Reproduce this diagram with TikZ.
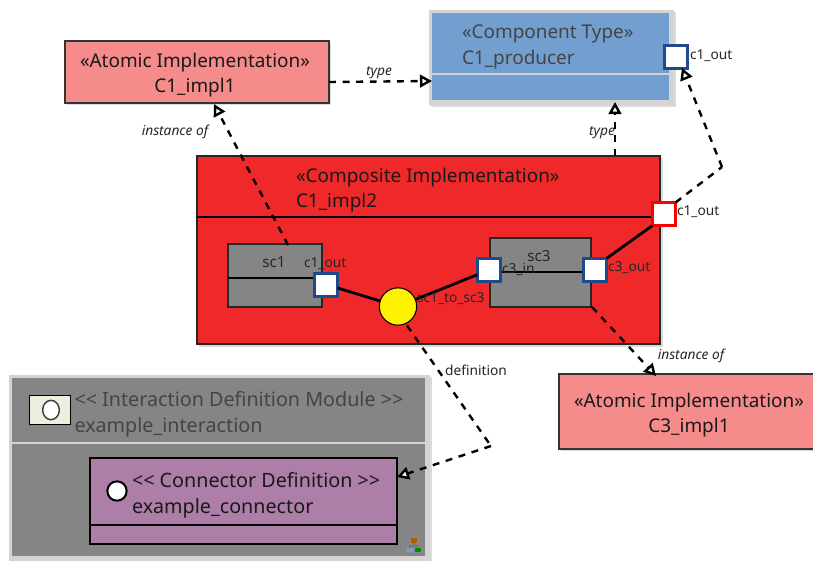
\documentclass[tikz,border=0pt]{standalone}
\usepackage{fontspec}
\setmainfont{Noto Sans}
\usetikzlibrary{arrows.meta,shapes.geometric}
\definecolor{atomic}{HTML}{F58B8B}
\definecolor{ctype}{HTML}{729FCF}
\definecolor{comp}{HTML}{EF2929}
\definecolor{gr}{HTML}{858585}
\definecolor{purp}{HTML}{AD7FA8}
\definecolor{portblue}{HTML}{204A87}
\definecolor{txtgr}{HTML}{444444}
\definecolor{outerg}{HTML}{D3D3D3}
\definecolor{cream}{HTML}{EEEEDF}
\tikzset{
  x=.75pt,y=-.75pt,
  every node/.style={inner sep=0pt,outer sep=0pt},
  box/.style={draw=#1,line width=.85pt,rectangle},
  big/.style={font=\fontsize{14.2pt}{19.3pt}\selectfont,align=left,text=black!90},
  bigc/.style={big,align=center},
  bigl/.style={font=\fontsize{14.8pt}{19.3pt}\selectfont,align=left,text=black!90},
  small/.style={font=\fontsize{10.3pt}{12pt}\selectfont,text=black!85},
  ital/.style={font=\fontsize{10.3pt}{12pt}\selectfont\itshape,text=black!85},
  scl/.style={font=\fontsize{11.4pt}{13pt}\selectfont,text=black!85},
  portb/.style={draw=portblue,fill=white,line width=1.7pt,minimum width=17.4pt,minimum height=17.4pt},
  portr/.style={draw=red,fill=white,line width=1.7pt,minimum width=17.4pt,minimum height=17.4pt},
  dep/.style={line width=1.8pt,dash pattern=on 5.2pt off 5pt,-{Triangle[open,fill=white,length=9pt,width=9.5pt,line width=1.8pt]}},
  depn/.style={line width=1.8pt,dash pattern=on 5.2pt off 5pt},
  wire/.style={line width=2.1pt,black},
  sep/.style={line width=.8pt},
  shad/.style={fill=black!14,draw=none},
}
\begin{document}
\begin{tikzpicture}
\useasboundingbox (0,0) rectangle (813,561);
\clip (0,0) rectangle (813,561);
% shadows
\fill[shad] (431,12) rectangle (676,107);
\fill[shad] (199,158) rectangle (663,347);
\fill[shad] (67,43) rectangle (331,105);
\fill[shad] (561,376) rectangle (820,451);
\fill[shad] (11,377) rectangle (432,561);
% Atomic 1
\node[box=black!80,fill=atomic,minimum width=264*.75pt,minimum height=62*.75pt] (a1) at (197,72) {};
\node[bigc] (a1t) at (195,75) {«Atomic Implementation»\\C1\_impl1};
% Component type
\node[fill=outerg,minimum width=245*.75pt,minimum height=95*.75pt] (ctouter) at (551.5,57.5) {};
\node[fill=ctype,minimum width=237*.75pt,minimum height=87*.75pt] (ct) at (550.5,56.5) {};
\draw[sep,draw=outerg] (ct.west|-0,74) -- (ct.east|-0,74);
\node[big,text=txtgr,anchor=west] (ctt) at (462,47) {«Component Type»\\C1\_producer};
\node[portb] (pco) at (676,57) {};
\node[small,anchor=west] (pcol) at (690,56) {c1\_out};
% Composite
\node[box=black!85,fill=comp,minimum width=463*.75pt,minimum height=188*.75pt] (c2) at (428.5,250) {};
\draw[sep] (c2.west|-0,217) -- (c2.east|-0,217);
\node[big,anchor=west] (c2t) at (296,190) {«Composite Implementation»\\C1\_impl2};
% sc1
\node[box=black!85,fill=gr,minimum width=94*.75pt,minimum height=63*.75pt] (sc1) at (275,275.5) {};
\draw[sep] (sc1.west|-0,278) -- (sc1.east|-0,278);
\node[scl] (sc1t) at (274,262) {sc1};
% sc3
\node[box=black!85,fill=gr,minimum width=101*.75pt,minimum height=69*.75pt] (sc3) at (540.5,272.5) {};
\draw[sep] (sc3.west|-0,272) -- (sc3.east|-0,272);
\node[scl] (sc3t) at (539,256) {sc3};
% Atomic 2
\node[box=black!80,fill=atomic,minimum width=260*.75pt,minimum height=75*.75pt] (a2) at (689,411.5) {};
\node[bigc] (a2t) at (689,415) {«Atomic Implementation»\\C3\_impl1};
% Interaction module
\node[fill=outerg,minimum width=421*.75pt,minimum height=186*.75pt] (imouter) at (219.5,468) {};
\node[fill=gr,minimum width=413*.75pt,minimum height=178*.75pt] (im) at (218.5,467) {};
\draw[sep,draw=outerg] (im.west|-0,443) -- (im.east|-0,443);
\node[bigl,text=txtgr,anchor=west] (imt) at (74.5,414.5) {<{}< Interaction Definition Module >{}>\\example\_interaction};
\node[draw=black,line width=.7pt,fill=cream,minimum width=41*.75pt,minimum height=29*.75pt] (ib) at (50,410) {};
\node[ellipse,draw=black!75,line width=1.1pt,fill=white,minimum width=12.5pt,minimum height=14.5pt] (ibc) at (51,410) {};
% Connector definition
\node[box=black,fill=purp,minimum width=307*.75pt,minimum height=86*.75pt] (cd) at (243.5,501) {};
\draw[sep] (cd.west|-0,525) -- (cd.east|-0,525);
\node[circle,draw=black,line width=1.5pt,fill=white,minimum size=14.5pt] (cdc) at (117,491) {};
\node[bigl,anchor=west] (cdt) at (132,495.5) {<{}< Connector Definition >{}>\\example\_connector};
% small icon
\node[fill=orange!70!black,draw=black!45,line width=.4pt,minimum width=7*.75pt,minimum height=6*.75pt] (ic1) at (414,540) {};
\node[fill=ctype,draw=black!45,line width=.4pt,minimum width=7*.75pt,minimum height=5*.75pt] (ic2) at (410,550) {};
\node[fill=green!55!black,draw=black!45,line width=.4pt,minimum width=7*.75pt,minimum height=5*.75pt] (ic3) at (418,550) {};
\draw[line width=.8pt,black!55] (ic1.south) -- (414,546) (ic2.north) |- (414,546) -| (ic3.north);
% anchors for connectors
\coordinate (wpa) at (722,167);
\coordinate (wpd) at (491,446);
\coordinate (sc1top) at (288,245);
\coordinate (a1b) at (214,104);
\coordinate (a2top) at (656,376);
\coordinate (sc3br) at (592,307);
% ports and wires
\node[portb] (pc1) at (326,285) {};
\node[portb] (pc3i) at (489,270) {};
\node[portb] (pc3o) at (595,270) {};
\node[portr] (pr) at (664,214) {};
\node[circle,draw=black,line width=.8pt,fill=yellow,minimum size=28pt] (conn) at (398,306.5) {};
\draw[wire] (pc1.east|-0,288) -- (conn);
\draw[wire] (conn) -- (pc3i);
\draw[wire] (pc3o.north east) -- (pr.south west);
% dashed
\draw[dep] (a1.east|-0,82) -- (ct.west|-0,81);
\draw[dep] (sc1top) -- (a1b);
\draw[dep] (c2.north-|615,0) -- (615,102);
\draw[depn] (pr.north east) -- (wpa);
\draw[dep] (wpa) -- (682,68);
\draw[dep] (sc3br) -- (a2top);
\draw[depn] (conn) ++(9,19) -- (wpd);
\draw[dep] (wpd) -- (cd.east|-0,477);
% labels
\node[ital] (l1) at (379,73) {type};
\node[ital] (l2) at (175,132) {instance of};
\node[ital] (l3) at (602,133) {type};
\node[ital] (l4) at (691,356) {instance of};
\node[small] (l5) at (476,370) {definition};
\node[small,anchor=west] (l6) at (677,212) {c1\_out};
\node[small,anchor=west] (l7) at (304,264) {c1\_out};
\node[small,anchor=west] (l8) at (502,269) {c3\_in};
\node[small,anchor=west] (l9) at (608,268) {c3\_out};
\node[small,anchor=west] (l10) at (417,299) {sc1\_to\_sc3};
\end{tikzpicture}
\end{document}
